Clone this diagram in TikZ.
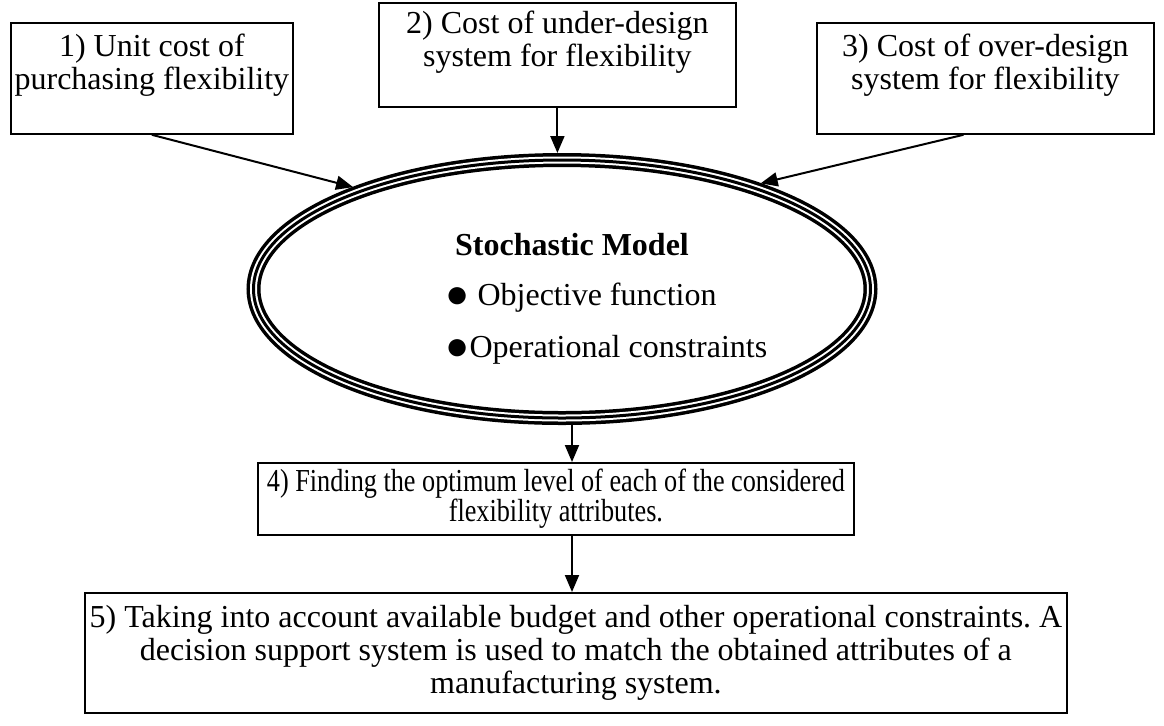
\documentclass[tikz,border=0pt]{standalone}
\usepackage{fontspec}
\setmainfont{Liberation Serif}
\newfontfamily\narrowserif[FakeStretch=0.82]{Liberation Serif}
\usetikzlibrary{arrows.meta}
\usetikzlibrary{shapes.geometric}
\newcommand{\bigdot}{\raisebox{-1pt}{\scalebox{1.25}{●}}}
\frenchspacing

\begin{document}
\begin{tikzpicture}
[x=0.5pt,y=-0.5pt,%
  every node/.style={align=center,inner sep=0pt,font=\fontsize{16}{16.5}\selectfont},%
  costbox/.style={draw,line width=0.9pt,anchor=north west},%
  flow/.style={line width=1pt,-{Triangle[length=8.5pt,width=7pt]}}]
\useasboundingbox (0,0) rectangle (1164,725);
% input costs
\node[costbox,minimum width=141pt,minimum height=55.5pt] (unitcost) at (10,22)
  {1) Unit cost of\\purchasing flexibility\\\mbox{}};
\node[costbox,minimum width=178.5pt,minimum height=52pt] (undercost) at (378,2)
  {2) Cost of under-design\\system for flexibility\\\mbox{}};
\node[costbox,minimum width=168.5pt,minimum height=55.5pt] (overcost) at (816,22)
  {3) Cost of over-design\\system for flexibility\\\mbox{}};
% model
\node[ellipse,draw,line width=7pt,minimum width=308.5pt,minimum height=129pt,%
  postaction={draw=white,line width=3.5pt},postaction={draw,line width=1.5pt}]
  (model) at (562,289) {};
\node[font=\fontsize{16}{16.5}\selectfont\bfseries] (title) at (572,245) {Stochastic Model};
\node[anchor=west] (objective) at (445,298) {\bigdot{} Objective function};
\node[anchor=west] (constraints) at (445,350) {\bigdot{}Operational constraints};
% results
\node[costbox,minimum width=298pt,minimum height=36pt,%
  font=\fontsize{16}{15}\narrowserif] (optimum) at (257,462)
  {4) Finding the optimum level of each of the considered\\flexibility attributes.};
\node[costbox,minimum width=491pt,minimum height=60pt] (decision) at (84,592)
  {5) Taking into account available budget and other operational constraints. A\\
   decision support system is used to match the obtained attributes of a\\
   manufacturing system.};
\draw[flow] (unitcost.south) -- (model.154);
\draw[flow] (undercost.south) -- (undercost.south |- model.north);
\draw[flow] ([xshift=-11pt]overcost.south) -- (model.28);
\draw[flow] ([xshift=5pt]model.south) -- ([xshift=5pt]model.south |- optimum.north);
\draw[flow] ([xshift=5pt]model.south |- optimum.south) -- ([xshift=5pt]model.south |- decision.north);
\end{tikzpicture}
\end{document}
